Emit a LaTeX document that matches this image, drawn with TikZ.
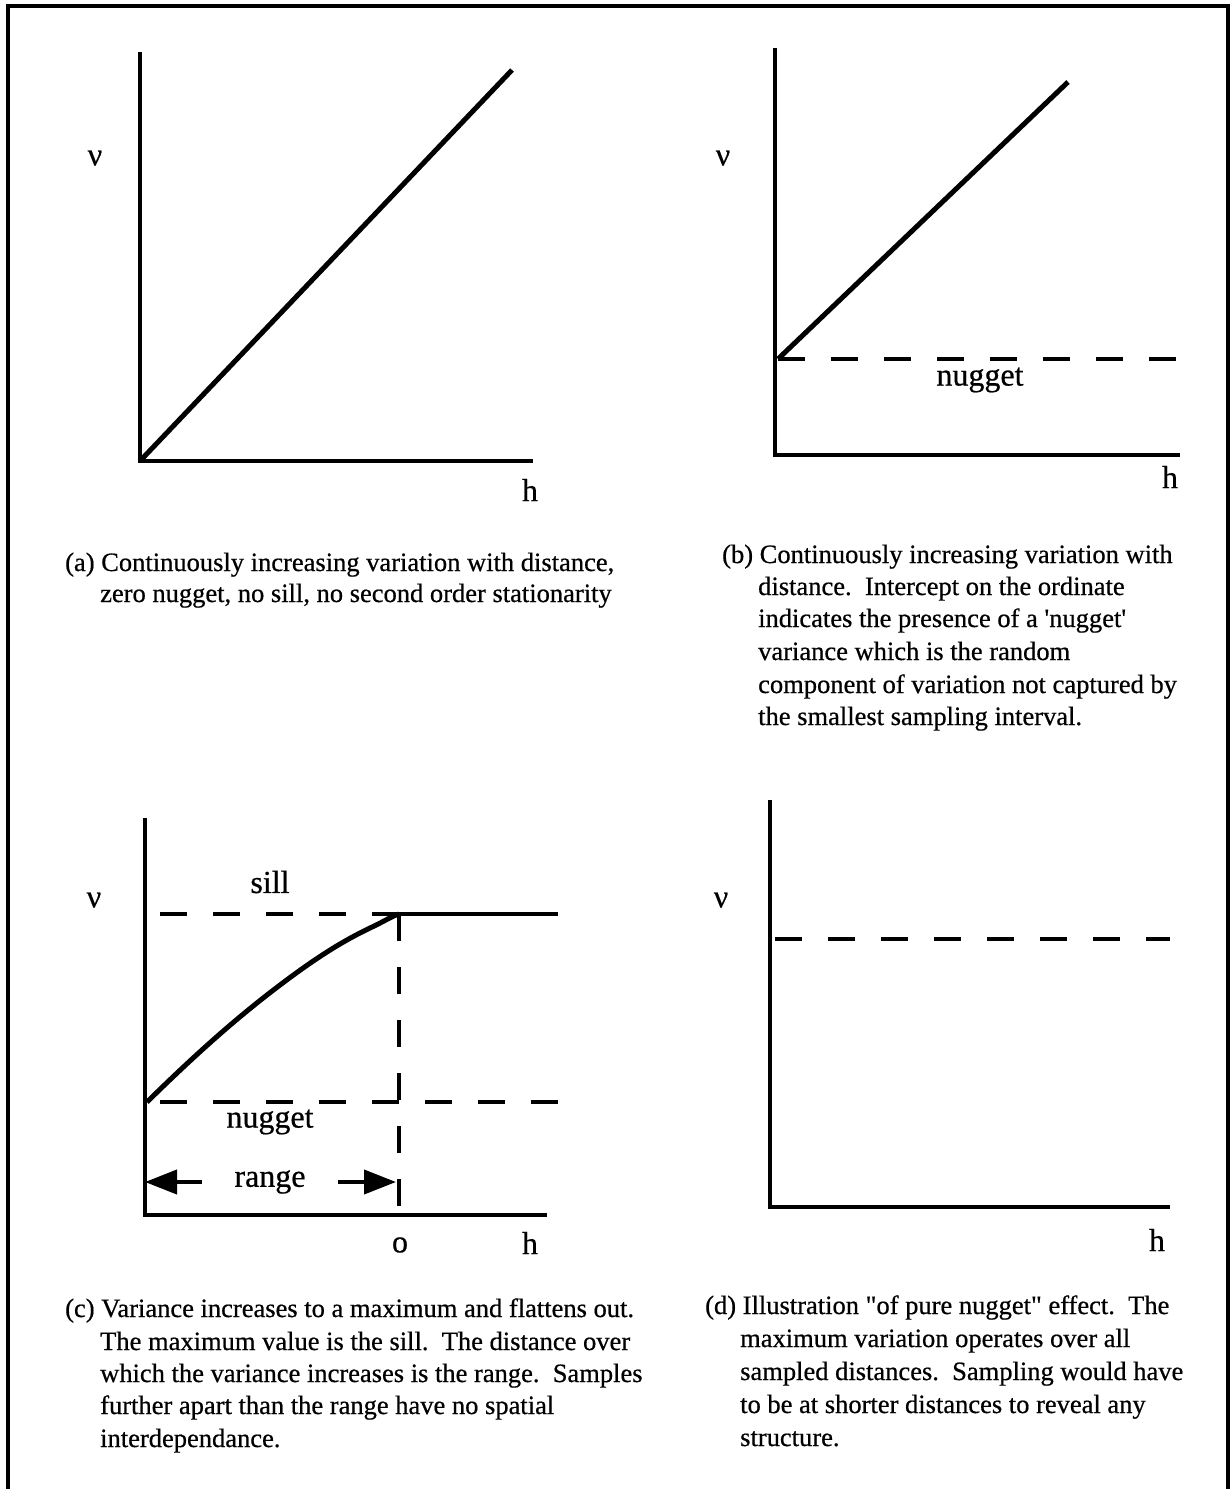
\documentclass[tikz,border=0pt]{standalone}
\usepackage{fontspec}
\setmainfont{Liberation Serif}[FakeBold=0.6]
\usetikzlibrary{arrows.meta}
\begin{document}
\begin{tikzpicture}[x=1pt,y=-1pt,
  axis/.style={line width=4pt},
  curve/.style={line width=5pt},
  dashline/.style={line width=3.5pt, dash pattern=on 27pt off 26pt},
  lab/.style={font=\fontsize{32}{36}\selectfont, inner sep=0pt},
  captxt/.style={font=\fontsize{26.5}{31}\selectfont, anchor=base west, inner sep=0pt},
  rarrow/.style={line width=4pt, -{Triangle[length=32pt,width=24pt]}}]
\useasboundingbox (0,0) rectangle (1230,1489);
\fill[white] (0,0) rectangle (1230,1489);
% frame
\draw[line width=3.5pt] (8,1489) -- (8,6) -- (1228,6) -- (1228,1489);

% ---------- panel (a)
\coordinate (aO) at (140,461);
\coordinate (aT) at (140,52);
\coordinate (aX) at (533,461);
\coordinate (aE) at (512,70);
\draw[axis] (aT) -- (aO) -- (aX);
\draw[curve] (aO) -- (aE);
\node[lab] (anu) at (95,158) {ν};
\node[lab] (ah) at (530,490) {h};
\node[captxt] (ac1) at (65,571) {(a) Continuously increasing variation with distance,};
\node[captxt] (ac2) at (100,602) {zero nugget, no sill, no second order stationarity};

% ---------- panel (b)
\coordinate (bO) at (775,455);
\coordinate (bT) at (775,48);
\coordinate (bX) at (1180,455);
\coordinate (bN) at (778,359);
\coordinate (bNE) at (1178,359);
\coordinate (bE) at (1068,82);
\draw[axis] (bT) -- (bO) -- (bX);
\draw[dashline] (bN) -- (bNE);
\draw[curve] (bN) -- (bE);
\node[lab] (bnu) at (723,158) {ν};
\node[lab] (bnug) at (980,380) {nugget};
\node[lab] (bh) at (1170,477) {h};
\node[captxt] (bc1) at (722,563) {(b) Continuously increasing variation with};
\node[captxt] (bc2) at (758,595) {distance.\ \ Intercept on the ordinate};
\node[captxt] (bc3) at (758,627) {indicates the presence of a \textquotesingle nugget\textquotesingle};
\node[captxt] (bc4) at (758,660) {variance which is the random};
\node[captxt] (bc5) at (758,693) {component of variation not captured by};
\node[captxt] (bc6) at (758,725) {the smallest sampling interval.};

% ---------- panel (c)
\coordinate (cO) at (145,1215);
\coordinate (cT) at (145,818);
\coordinate (cX) at (547,1215);
\coordinate (cS0) at (160,914);
\coordinate (cR) at (399,914);
\coordinate (cSE) at (558,914);
\coordinate (cN0) at (147,1102);
\coordinate (cNs) at (160,1102);
\coordinate (cNE) at (562,1102);
\coordinate (cRb) at (399,1215);
\coordinate (cAL) at (145,1182);
\coordinate (cAl0) at (202,1182);
\coordinate (cAr0) at (338,1182);
\coordinate (cAR) at (396,1182);
\draw[axis] (cT) -- (cO) -- (cX);
\draw[dashline] (cS0) -- (cR);
\draw[line width=3.5pt] (cR) -- (cSE);
\draw[dashline] (cNs) -- (cNE);
\draw[dashline] (cR) -- (cRb);
\draw[curve] (cN0) .. controls (200,1050) and (240,1015) .. (284,982)
  .. controls (320,955) and (345,940) .. (370,928)
  .. controls (385,921) and (392,916) .. (cR);
\node[lab] (cnu) at (94,900) {ν};
\node[lab] (csill) at (270,882) {sill};
\node[lab] (cnug) at (270,1122) {nugget};
\node[lab] (crange) at (270,1182) {range};
\node[lab] (co) at (400,1245) {o};
\node[lab] (ch) at (530,1243) {h};
\draw[rarrow] (cAl0) -- (cAL);
\draw[rarrow] (cAr0) -- (cAR);
\node[captxt] (cc1) at (65,1317) {(c) Variance increases to a maximum and flattens out.};
\node[captxt] (cc2) at (100,1350) {The maximum value is the sill.\ \ The distance over};
\node[captxt] (cc3) at (100,1382) {which the variance increases is the range.\ \ Samples};
\node[captxt] (cc4) at (100,1414) {further apart than the range have no spatial};
\node[captxt] (cc5) at (100,1447) {interdependance.};

% ---------- panel (d)
\coordinate (dO) at (770,1207);
\coordinate (dT) at (770,800);
\coordinate (dX) at (1170,1207);
\coordinate (dN) at (775,939);
\coordinate (dNE) at (1170,939);
\draw[axis] (dT) -- (dO) -- (dX);
\draw[dashline] (dN) -- (dNE);
\node[lab] (dnu) at (721,900) {ν};
\node[lab] (dh) at (1157,1240) {h};
\node[captxt] (dc1) at (705,1314) {(d) Illustration \textquotedbl of pure nugget\textquotedbl\ effect.\ \ The};
\node[captxt] (dc2) at (740,1347) {maximum variation operates over all};
\node[captxt] (dc3) at (740,1380) {sampled distances.\ \ Sampling would have};
\node[captxt] (dc4) at (740,1413) {to be at shorter distances to reveal any};
\node[captxt] (dc5) at (740,1446) {structure.};
\end{tikzpicture}
\end{document}
